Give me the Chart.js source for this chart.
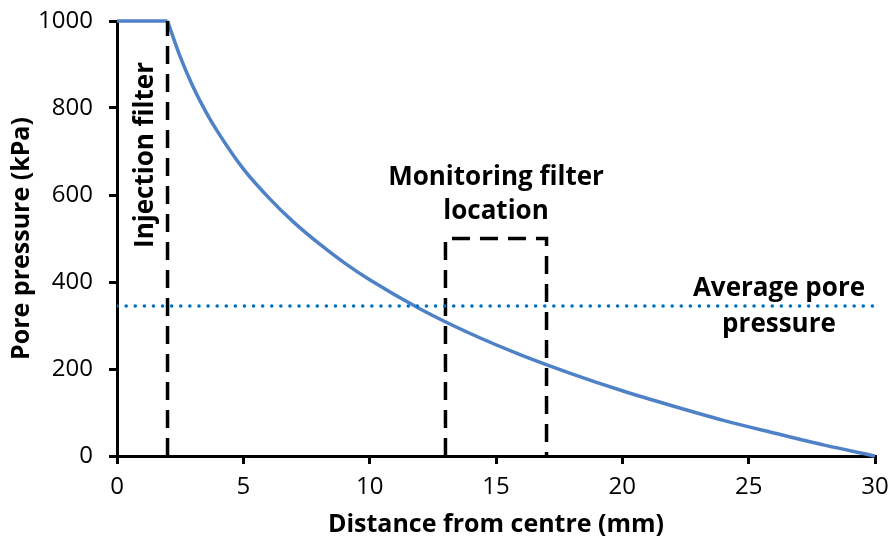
<!DOCTYPE html>
<html>
<head>
<meta charset="utf-8">
<script src="https://cdn.jsdelivr.net/npm/chart.js@4/dist/chart.umd.min.js"></script>
<style>
  html, body { margin: 0; padding: 0; background: #fff; }
  #wrap { width: 894px; height: 544px; }
</style>
</head>
<body>
<div id="wrap"><canvas id="c" width="894" height="544"></canvas></div>
<script>
// pore pressure profile
const distance = [0, 2, 2.5, 3, 3.5, 4, 5, 6, 7, 8, 9, 10, 12, 14, 16, 18, 20, 22, 24, 26, 28, 30];
const pressure = [1000, 1000, 918, 850, 793, 744, 660, 594, 537, 488, 444, 405, 338, 281, 232, 189, 150, 115, 82, 53, 25, 0];

const injectionX = [2, 2];
const injectionY = [0, 1000];
const monitorX = [13, 13, 17, 17];
const monitorY = [0, 500, 500, 0];
const averageX = [0, 30];
const averageY = [345, 345];

const xTicks = [0, 5, 10, 15, 20, 25, 30];
const yTicks = [0, 200, 400, 600, 800, 1000];

const FONT = '"Open Sans", Lato, sans-serif';

function pts(xs, ys) {
  return xs.map((x, i) => ({ x, y: ys[i] }));
}

const profile = pts(distance, pressure);
// flat part inside the injection filter, then the decay
const flatPart = profile.slice(0, 2);
const decayPart = profile.slice(1);

// text labels drawn in the plot
const notes = {
  id: 'notes',
  afterDatasetsDraw(chart) {
    const { ctx, scales: { x, y } } = chart;
    ctx.save();
    ctx.fillStyle = '#000';
    ctx.font = 'bold 26px ' + FONT;
    ctx.textAlign = 'center';
    ctx.textBaseline = 'middle';
    ctx.fillText('Monitoring filter', x.getPixelForValue(15), y.getPixelForValue(641));
    ctx.fillText('location', x.getPixelForValue(15), y.getPixelForValue(561));
    ctx.fillText('Average pore', x.getPixelForValue(26.2), y.getPixelForValue(384));
    ctx.fillText('pressure', x.getPixelForValue(26.2), y.getPixelForValue(301));
    ctx.translate(x.getPixelForValue(1.15), y.getPixelForValue(692));
    ctx.rotate(-Math.PI / 2);
    ctx.fillText('Injection filter', 0, 0);
    ctx.restore();
  }
};

const curve = {
  showLine: true,
  borderColor: '#4f81c7',
  borderWidth: 3.5,
  cubicInterpolationMode: 'monotone',
  pointRadius: 0,
  clip: false
};

new Chart(document.getElementById('c'), {
  type: 'scatter',
  data: {
    datasets: [
      {
        label: 'Average pore pressure',
        data: pts(averageX, averageY),
        showLine: true,
        borderColor: '#0070c0',
        borderWidth: 3.5,
        borderDash: [0.1, 9],
        borderCapStyle: 'round',
        pointRadius: 0
      },
      {
        label: 'Injection filter',
        data: pts(injectionX, injectionY),
        showLine: true,
        borderColor: '#000',
        borderWidth: 3.5,
        borderDash: [18, 10],
        pointRadius: 0,
        clip: false
      },
      {
        label: 'Monitoring filter',
        data: pts(monitorX, monitorY),
        showLine: true,
        borderColor: '#000',
        borderWidth: 3.5,
        borderDash: [18, 10],
        pointRadius: 0
      },
      { ...curve, label: 'Pore pressure', data: flatPart },
      { ...curve, label: 'Pore pressure ', data: decayPart }
    ]
  },
  options: {
    responsive: false,
    animation: false,
    layout: { padding: { top: 21, right: 19, bottom: 0, left: 0 } },
    plugins: {
      legend: { display: false },
      tooltip: { enabled: false }
    },
    scales: {
      x: {
        type: 'linear',
        min: 0,
        max: 30,
        afterBuildTicks(s) { s.ticks = xTicks.map(v => ({ value: v })); },
        afterFit(s) { s.height = 88; s.paddingRight = 0; s.paddingLeft = 0; },
        ticks: { color: '#000', font: { family: FONT, size: 24 }, padding: 9, callback: v => String(v) },
        grid: { drawOnChartArea: false, drawTicks: true, tickLength: 8, color: '#000', lineWidth: 3 },
        border: { display: true, color: '#000', width: 3 },
        title: {
          display: true,
          text: 'Distance from centre (mm)',
          color: '#000',
          font: { family: FONT, size: 25, weight: 'bold' },
          padding: { top: 0, bottom: 4 }
        }
      },
      y: {
        min: 0,
        max: 1000,
        afterBuildTicks(s) { s.ticks = yTicks.map(v => ({ value: v })); },
        afterFit(s) { s.width = 117; s.paddingTop = 0; s.paddingBottom = 0; },
        ticks: { color: '#000', font: { family: FONT, size: 24 }, padding: 16, callback: v => String(v) },
        grid: { drawOnChartArea: false, drawTicks: true, tickLength: 8, color: '#000', lineWidth: 3 },
        border: { display: true, color: '#000', width: 3 },
        title: {
          display: true,
          text: 'Pore pressure (kPa)',
          color: '#000',
          font: { family: FONT, size: 25, weight: 'bold' },
          padding: { top: 7, bottom: 0 }
        }
      }
    }
  },
  plugins: [notes]
});
</script>
</body>
</html>
